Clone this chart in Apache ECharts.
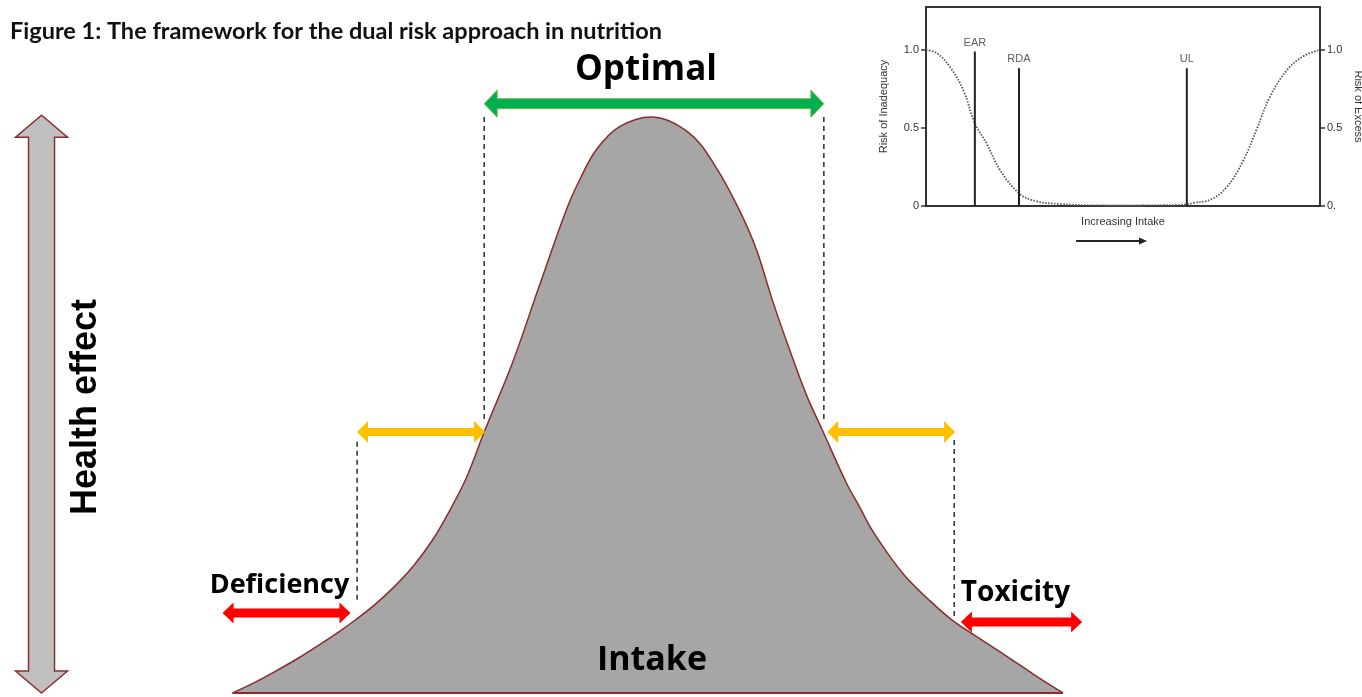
<!DOCTYPE html>
<html>
<head>
<meta charset="utf-8" />
<title>Dual risk approach</title>
<style>
html, body { margin: 0; padding: 0; background: #fff; }
#chart { width: 1362px; height: 697px; }
</style>
</head>
<body>
<div id="chart"></div>
<script src="https://cdn.jsdelivr.net/npm/echarts@6.0.0/dist/echarts.min.js"></script>
<script>
// ---- main figure: health effect vs intake (schematic, 0-100 units) ----
var intake = [0, 2.5, 5.7, 8.1, 10.5, 12.8, 14.9, 17.1, 19.3, 21.7, 24.1, 26.2, 28.2, 30.3, 33.7, 36.9,
              40.2, 41.8, 43.8, 46.6, 50.4, 55.0, 58.2, 61.0, 63.1, 65.0, 67.1, 69.2, 71.0, 73.9,
              75.5, 77.0, 79.1, 81.1, 83.9, 86.6, 89.9, 93.1, 96.5, 100];
var health = [0, 1.7, 4.2, 6.2, 8.4, 10.6, 12.8, 15.3, 18.2, 21.9, 26.6, 31.8, 37.5, 45.3, 57.3, 70.5,
              83.9, 89.1, 94.3, 98.3, 100, 97.2, 91.3, 83.9, 76.9, 68.2, 59.5, 51.4, 45.7, 36.5,
              32.3, 28.3, 23.8, 20.1, 16.1, 12.7, 9.5, 6.5, 3.2, 0];

// dashed guide lines: x, top, bottom
var guideX = [30.3, 71.2, 15.0, 86.9];
var guideTop = [100.0, 100.0, 43.6, 43.9];
var guideBottom = [46.9, 46.9, 15.6, 13.2];

// range arrows
var arrowNames = ['Optimal', '', '', 'Deficiency', 'Toxicity', 'Health effect'];
var arrowFrom = [[30.3, 102.3], [15.0, 45.3], [71.6, 45.3], [-1.2, 13.9], [87.7, 12.3], [-23.0, 0]];
var arrowTo = [[71.2, 102.3], [30.4, 45.3], [87.0, 45.3], [14.2, 13.9], [102.3, 12.3], [-23.0, 100.3]];

// axis caption under the curve
var intakeCaption = ['Intake', 50.5, 5.6];

// ---- inset: risk curves ----
var inadequacyX = [0, 2.7, 6.1, 9.5, 12.4, 15.4, 18.8, 23.7, 28.1, 34, 42.5, 55];
var inadequacy = [1.0, 0.98, 0.89, 0.74, 0.53, 0.40, 0.23, 0.08, 0.03, 0.013, 0.004, 0.002];
var excessX = [45, 58, 66.2, 67.8, 72.1, 76.3, 80.5, 83.9, 87.3, 91.6, 95.8, 100];
var excess = [0.002, 0.004, 0.01, 0.02, 0.04, 0.12, 0.29, 0.49, 0.70, 0.87, 0.96, 1.0];
var refNames = ['EAR', 'RDA', 'UL'];
var refX = [12.4, 23.6, 66.2];
var refTop = [0.99, 0.883, 0.883];
var riskTicks = [0, 0.5, 1.0];
var intakeArrow = [38.1, -0.224, 56.1, -0.224];

var arrowStyles = [
  { fill: '#00b050', stroke: '#7cb342', lineWidth: 1, shaft: 10, head: 27, headLen: 13, both: true, dx: -8, dy: -34, size: 35 },
  { fill: '#ffc000', shaft: 8, head: 22, headLen: 11, both: true },
  { fill: '#ffc000', shaft: 8, head: 22, headLen: 11, both: true },
  { fill: '#ff0000', shaft: 9, head: 21, headLen: 11, both: true, dx: -7, dy: -28, size: 27 },
  { fill: '#ff0000', shaft: 9, head: 21, headLen: 11, both: true, dx: -6, dy: -29, size: 28 },
  { fill: '#c0c0c0', stroke: '#8b2f2f', lineWidth: 1.5, shaft: 26, head: 52, headLen: 22, both: true,
    dx: 45, dy: 3, size: 36, rotation: Math.PI / 2, font: 'Liberation Sans' }
];

function arrowRender(st, text) {
  return function (params, api) {
    var a = api.coord([api.value(0), api.value(1)]);
    var b = api.coord([api.value(2), api.value(3)]);
    var dx = b[0] - a[0], dy = b[1] - a[1];
    var len = Math.sqrt(dx * dx + dy * dy);
    var ux = dx / len, uy = dy / len, nx = -uy, ny = ux;
    var w = st.shaft / 2, hw = st.head / 2, hl = st.headLen;
    function p(base, along, side) {
      return [base[0] + ux * along + nx * side, base[1] + uy * along + ny * side];
    }
    var pts;
    if (st.both) {
      pts = [a, p(a, hl, hw), p(a, hl, w), p(b, -hl, w), p(b, -hl, hw), b,
             p(b, -hl, -hw), p(b, -hl, -w), p(a, hl, -w), p(a, hl, -hw)];
    } else {
      pts = [p(a, 0, w), p(b, -hl, w), p(b, -hl, hw), b, p(b, -hl, -hw), p(b, -hl, -w), p(a, 0, -w)];
    }
    var children = [{
      type: 'polygon',
      shape: { points: pts },
      style: { fill: st.fill, stroke: st.stroke || null, lineWidth: st.lineWidth || 0 }
    }];
    if (text) {
      children.push({
        type: 'text',
        x: (a[0] + b[0]) / 2 + st.dx,
        y: (a[1] + b[1]) / 2 + st.dy,
        rotation: st.rotation || 0,
        style: {
          text: text, fontSize: st.size, fontWeight: 'bold',
          fontFamily: st.font || 'Open Sans', fill: '#000',
          align: 'center', verticalAlign: 'middle'
        }
      });
    }
    return { type: 'group', children: children };
  };
}

var chart = echarts.init(document.getElementById('chart'));

var guideData = [];
for (var i = 0; i < guideX.length; i++) {
  guideData.push([guideX[i], guideTop[i]], [guideX[i], guideBottom[i]], [null, null]);
}

var series = [
  {
    type: 'line',
    xAxisIndex: 0, yAxisIndex: 0,
    data: intake.map(function (x, i) { return [x, health[i]]; }),
    smooth: 0.35,
    symbol: 'none',
    lineStyle: { color: '#8b2c2c', width: 1.5 },
    areaStyle: { color: '#a6a6a6', opacity: 1 },
    z: 2
  },
  {
    type: 'line',
    xAxisIndex: 0, yAxisIndex: 0,
    data: [[intake[0], 0], [intake[intake.length - 1], 0]],
    symbol: 'none',
    lineStyle: { color: '#8b2c2c', width: 2 },
    z: 3
  },
  {
    type: 'line',
    xAxisIndex: 0, yAxisIndex: 0,
    data: guideData,
    connectNulls: false,
    symbol: 'none',
    lineStyle: { color: '#3a3a3a', width: 1.6, type: [5, 4] },
    z: 3
  },
  {
    type: 'custom',
    xAxisIndex: 0, yAxisIndex: 0,
    data: [[intakeCaption[1], intakeCaption[2]]],
    renderItem: function (params, api) {
      var c = api.coord([api.value(0), api.value(1)]);
      return {
        type: 'text', x: c[0], y: c[1],
        style: {
          text: intakeCaption[0], fontSize: 34, fontWeight: 'bold', fontFamily: 'Open Sans',
          fill: '#000', align: 'center', verticalAlign: 'middle'
        }
      };
    },
    z: 5
  }
];

arrowFrom.forEach(function (f, i) {
  series.push({
    type: 'custom',
    xAxisIndex: 0, yAxisIndex: 0,
    clip: false,
    data: [[f[0], f[1], arrowTo[i][0], arrowTo[i][1]]],
    encode: { x: [0, 2], y: [1, 3] },
    renderItem: arrowRender(arrowStyles[i], arrowNames[i]),
    z: 6
  });
});

// inset series
series.push(
  {
    type: 'line',
    xAxisIndex: 1, yAxisIndex: 1,
    data: inadequacyX.map(function (x, i) { return [x, inadequacy[i]]; }),
    smooth: 0.4,
    symbol: 'none',
    lineStyle: { color: '#555', width: 1.8, type: [1.5, 1.5] }
  },
  {
    type: 'line',
    xAxisIndex: 1, yAxisIndex: 2,
    data: excessX.map(function (x, i) { return [x, excess[i]]; }),
    smooth: 0.4,
    symbol: 'none',
    lineStyle: { color: '#555', width: 1.8, type: [1.5, 1.5] }
  }
);
refNames.forEach(function (name, i) {
  series.push({
    type: 'line',
    xAxisIndex: 1, yAxisIndex: 1,
    data: [[refX[i], 0], [refX[i], refTop[i]]],
    symbol: 'none',
    lineStyle: { color: '#222', width: 2 }
  });
});
series.push({
  type: 'scatter',
  xAxisIndex: 1, yAxisIndex: 1,
  data: refX.map(function (x, i) { return [x, refTop[i], refNames[i]]; }),
  symbolSize: 1,
  itemStyle: { color: 'rgba(0,0,0,0)' },
  label: {
    show: true, position: 'top', distance: 3,
    formatter: function (p) { return p.value[2]; },
    fontSize: 11, fontFamily: 'Liberation Sans', color: '#333'
  }
});
series.push({
  type: 'custom',
  xAxisIndex: 1, yAxisIndex: 1,
  clip: false,
  data: [intakeArrow],
  encode: { x: [0, 2], y: [1, 3] },
  renderItem: arrowRender({ fill: '#222', shaft: 2, head: 7, headLen: 8, both: false }, ''),
  z: 6
});

function riskAxis(pos, zeroText, name, gap, rot) {
  return {
    type: 'value', gridIndex: 1, position: pos,
    min: 0, max: 1.275, interval: 0.5,
    axisLine: { show: true, onZero: false, lineStyle: { color: '#333', width: 2 } },
    axisTick: { show: true, length: 5, customValues: riskTicks, lineStyle: { color: '#333', width: 1.5 } },
    axisLabel: {
      customValues: riskTicks, margin: 7, fontSize: 11, color: '#333', fontFamily: 'Liberation Sans',
      formatter: function (v) { return v === 0 ? zeroText : v.toFixed(1); }
    },
    splitLine: { show: false },
    name: name, nameLocation: 'middle', nameGap: gap, nameRotate: rot,
    nameTextStyle: { fontSize: 11, color: '#333', fontFamily: 'Liberation Sans' }
  };
}

var option = {
  animation: false,
  backgroundColor: '#fff',
  title: {
    text: 'Figure 1: The framework for the dual risk approach in nutrition',
    left: 5, top: 14,
    textStyle: { fontSize: 23.5, fontWeight: 'bold', fontFamily: 'Lato', color: '#111' }
  },
  grid: [
    { left: 0, right: 0, top: 0, bottom: 0, outerBoundsMode: 'none' },
    { left: 926, top: 7, width: 394, height: 199, outerBoundsMode: 'none' }
  ],
  xAxis: [
    { type: 'value', gridIndex: 0, min: -28, max: 136, show: false },
    {
      type: 'value', gridIndex: 1, min: 0, max: 100, position: 'bottom',
      axisLine: { onZero: false, lineStyle: { color: '#333', width: 2 } },
      axisTick: { show: false }, axisLabel: { show: false }, splitLine: { show: false },
      name: 'Increasing Intake', nameLocation: 'middle', nameGap: 10,
      nameTextStyle: { fontSize: 11, color: '#333', fontFamily: 'Liberation Sans' }
    },
    {
      type: 'value', gridIndex: 1, min: 0, max: 100, position: 'top',
      axisLine: { onZero: false, lineStyle: { color: '#333', width: 2 } },
      axisTick: { show: false }, axisLabel: { show: false }, splitLine: { show: false }
    }
  ],
  yAxis: [
    { type: 'value', gridIndex: 0, min: -0.7, max: 120.3, show: false },
    riskAxis('left', '0', 'Risk of Inadequacy', 37, 90),
    riskAxis('right', '0.', 'Risk of Excess', 33, -90)
  ],
  series: series
};

chart.setOption(option);
</script>
</body>
</html>
